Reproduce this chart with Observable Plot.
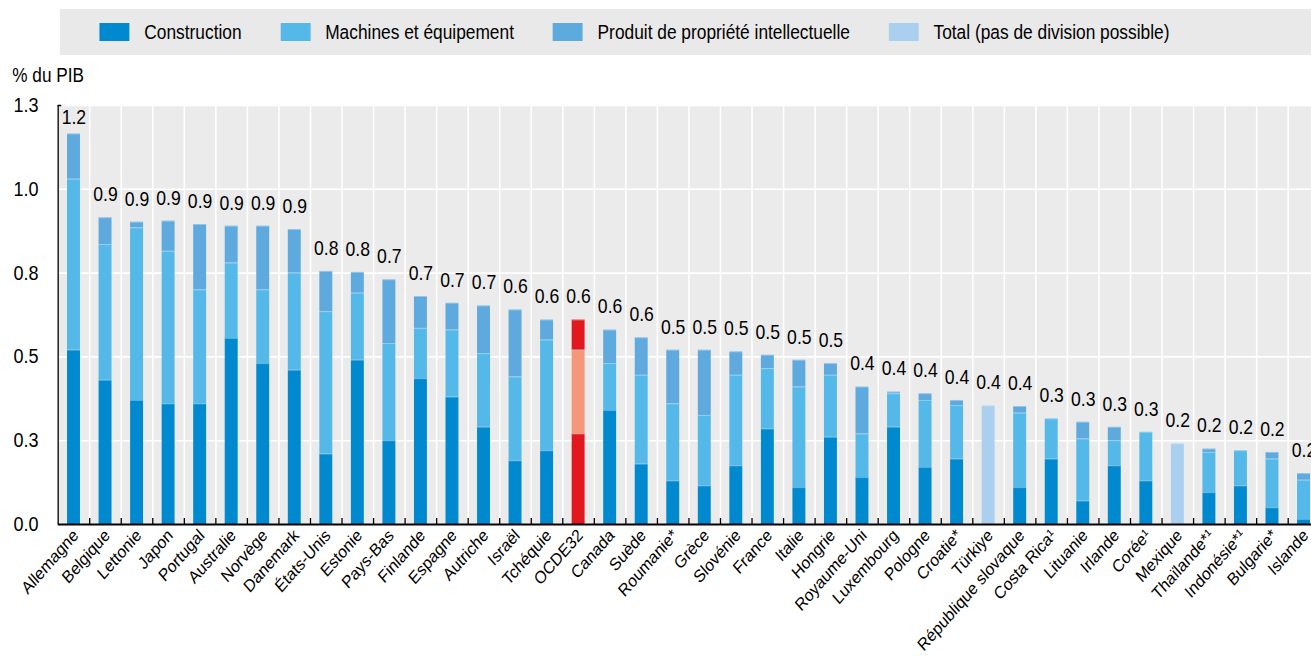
<!DOCTYPE html>
<html>
<head>
<meta charset="utf-8">
<script src="https://cdn.jsdelivr.net/npm/d3@7"></script>
<script src="https://cdn.jsdelivr.net/npm/@observablehq/plot@0.6"></script>
<style>
  body { margin: 0; background: #fff; font-family: "Liberation Sans", Arial, sans-serif; width: 1311px; height: 656px; overflow: hidden; position: relative; color: #000; }
  /* whole figure is drawn slightly condensed horizontally, like the reference */
  #page { position: absolute; left: 0; top: 0; width: 1490px; height: 656px; transform: scaleX(0.88); transform-origin: 0 0; }
  #legend { position: absolute; left: 68px; top: 9px; width: 1480px; height: 46px; background: #e9e9e9; display: flex; align-items: center; padding-left: 45px; box-sizing: border-box; font-size: 19.7px; }
  .item { display: flex; align-items: center; margin-right: 44px; white-space: nowrap; }
  .sw { width: 34px; height: 18px; margin-right: 17px; }
  #ylabel { position: absolute; left: 14px; top: 64px; font-size: 19.5px; line-height: 22px; }
  #chart { position: absolute; left: 0; top: 55px; }
</style>
</head>
<body>
<div id="page">
  <div id="legend"></div>
  <div id="ylabel">% du PIB</div>
  <div id="chart"></div>
</div>
<script>
// ---- Data ----
const countries = ["Allemagne","Belgique","Lettonie","Japon","Portugal","Australie","Norvège","Danemark","États-Unis","Estonie","Pays-Bas","Finlande","Espagne","Autriche","Israël","Tchéquie","OCDE32","Canada","Suède","Roumanie*","Grèce","Slovénie","France","Italie","Hongrie","Royaume-Uni","Luxembourg","Pologne","Croatie*","Türkiye","République slovaque","Costa Rica¹","Lituanie","Irlande","Corée¹","Mexique","Thaïlande*¹","Indonésie*¹","Bulgarie*","Islande"];
const construction = [0.52,0.43,0.37,0.36,0.36,0.555,0.48,0.46,0.21,0.49,0.25,0.435,0.38,0.29,0.19,0.22,0.27,0.34,0.18,0.13,0.115,0.175,0.285,0.11,0.26,0.14,0.29,0.17,0.195,null,0.11,0.195,0.07,0.175,0.13,null,0.095,0.115,0.05,0.015];
const machines = [0.51,0.405,0.515,0.455,0.34,0.225,0.22,0.29,0.425,0.20,0.29,0.15,0.20,0.22,0.25,0.33,0.25,0.14,0.265,0.23,0.21,0.27,0.18,0.30,0.185,0.13,0.10,0.20,0.16,null,0.222,0.12,0.185,0.075,0.145,null,0.12,0.105,0.145,0.117];
const propriete = [0.135,0.08,0.017,0.09,0.195,0.11,0.19,0.13,0.12,0.062,0.19,0.095,0.08,0.142,0.20,0.06,0.09,0.10,0.112,0.16,0.195,0.07,0.04,0.08,0.035,0.14,0.005,0.02,0.015,null,0.02,0,0.05,0.04,0,null,0.01,0,0.02,0.02];
const totalOnly = [null,null,null,null,null,null,null,null,null,null,null,null,null,null,null,null,null,null,null,null,null,null,null,null,null,null,null,null,null,0.354,null,null,null,null,null,0.241,null,null,null,null];
const seriesNames = ["Construction","Machines et équipement","Produit de propriété intellectuelle","Total (pas de division possible)"];
const yTicks = [0, 0.25, 0.5, 0.75, 1.0, 1.25];
const yTickLabels = ["0.0","0.3","0.5","0.8","1.0","1.3"];
const highlight = "OCDE32";

// ---- Styles ----
const colors = ["#0089cf", "#54b8e8", "#5ea9dd", "#abcfee"];
const highlightColors = ["#e1191f", "#f5977a", "#e1191f"];
const FONT = '"Liberation Sans", Arial, sans-serif';

// ---- Build tables ----
const seriesArrays = [construction, machines, propriete];
const rows = [];
countries.forEach((c, i) => {
  if (totalOnly[i] != null) {
    rows.push({country: c, value: totalOnly[i], fill: colors[3]});
  } else {
    seriesArrays.forEach((arr, s) => {
      if (arr[i] != null && arr[i] > 0) rows.push({country: c, value: arr[i], fill: c === highlight ? highlightColors[s] : colors[s]});
    });
  }
});
const totals = countries.map((c, i) => ({
  country: c,
  total: totalOnly[i] != null ? totalOnly[i] : (construction[i] || 0) + (machines[i] || 0) + (propriete[i] || 0)
}));
const fmt = d3.format(".1f");

// ---- Legend ----
const legend = document.getElementById("legend");
seriesNames.forEach((name, i) => {
  const it = document.createElement("div");
  it.className = "item";
  it.innerHTML = `<div class="sw" style="background:${colors[i]}"></div><span>${name}</span>`;
  legend.appendChild(it);
});

// ---- Chart ----
const W = 1490, H = 601, mL = 65.6, mR = -9.2;
const step = (W - mL - mR) / countries.length;

const chart = Plot.plot({
  width: W,
  height: H,
  marginLeft: mL,
  marginRight: mR,
  marginTop: 50,
  marginBottom: 132,
  style: {fontFamily: FONT, fontSize: "19px", color: "#000", background: "transparent", overflow: "hidden"},
  x: {domain: countries, paddingInner: 0.59, paddingOuter: 0.295, label: null},
  y: {domain: [0, 1.25], label: null},
  color: {type: "identity"},
  marks: [
    Plot.frame({fill: "#ebebeb", stroke: null}),
    Plot.gridY(yTicks, {stroke: "#fff", strokeOpacity: 1, strokeWidth: 1.6}),
    Plot.gridX(countries, {dx: step / 2, stroke: "#fff", strokeOpacity: 1, strokeWidth: 1.8}),
    Plot.barY(rows, {x: "country", y: "value", fill: "fill"}),
    Plot.tickY(rows, Plot.stackY2({x: "country", y: "value", stroke: "#fff", strokeOpacity: 0.35, strokeWidth: 1})),
    Plot.text(totals, {x: "country", y: d => Math.min(d.total, 1.144), text: d => fmt(d.total), dy: -23, fontSize: 20, fill: "#000"}),
    Plot.axisY(yTicks, {tickSize: 0, tickPadding: 22.4, tickFormat: d => yTickLabels[yTicks.indexOf(d)], fontSize: 20.5, label: null}),
    Plot.axisY([1.25], {tickSize: -4, tickFormat: () => "", label: null, stroke: "#000", strokeWidth: 1.5}),
    Plot.ruleX([countries[0]], {dx: -step / 2, y1: 0, y2: 1.25, stroke: "#000", strokeWidth: 1.5}),
    Plot.ruleY([0], {stroke: "#000", strokeWidth: 2}),
    Plot.axisX(countries, {tickSize: -6, dx: step / 2, tickFormat: () => "", label: null, stroke: "#000", strokeWidth: 1.5}),
    Plot.axisX(countries, {tickSize: 0, tickPadding: 8, dx: 2, tickRotate: -45, fontSize: 17.5, label: null})
  ]
});
document.getElementById("chart").appendChild(chart);
</script>
</body>
</html>
